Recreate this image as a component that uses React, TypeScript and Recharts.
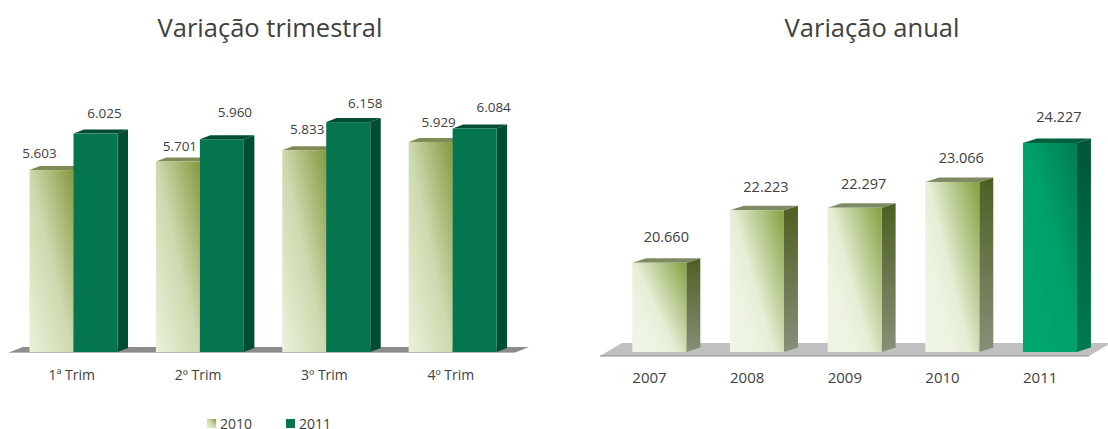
import { BarChart, Bar, XAxis, YAxis, Legend, Cell, LabelList, Customized, usePlotArea } from 'recharts'

const quarters = ['1ª Trim', '2º Trim', '3º Trim', '4º Trim']
const values2010 = [5603, 5701, 5833, 5929]
const values2011 = [6025, 5960, 6158, 6084]
const years = ['2007', '2008', '2009', '2010', '2011']
const annualValues = [20660, 22223, 22297, 23066, 24227]

// labels were nudged by hand in the original, these are offsets from the bar centre / top
const nudge2010 = [[-12, -17], [2, -16], [3, -21], [8, -20]]
const nudge2011 = [[9, -21], [13, -27], [17, -19], [19, -21]]
const nudgeAnnual = [[7, -26], [9, -24], [9, -24], [9, -24], [9, -26]]

const quarterData = quarters.map((q, i) => ({ q, v2010: values2010[i], v2011: values2011[i] }))
const annualData = years.map((year, i) => ({ year, value: annualValues[i] }))

const FONT = '"Open Sans", sans-serif'
const TEXT = '#404040'

function Bar3D(props: any) {
  const { x, y, width, height, fill, side, top, depth, rise } = props
  const r = x + width
  const b = y + height
  return (
    <g>
      <polygon points={`${r},${y} ${r + depth},${y - rise} ${r + depth},${b - rise} ${r},${b}`} fill={side} />
      <polygon points={`${x},${y} ${x + depth},${y - rise} ${r + depth},${y - rise} ${r},${y}`} fill={top} />
      <rect x={x} y={y} width={width} height={height} fill={fill} />
    </g>
  )
}

function Floor({ fill, line, left, right, tip, rise, drop }: any) {
  const area = usePlotArea()
  if (!area) return null
  const base = area.y + area.height
  const x0 = area.x + left
  const x1 = area.x + area.width + right
  return (
    <g>
      <polygon
        points={`${x0},${base + drop} ${x0 + tip},${base - rise} ${x1 + tip},${base - rise} ${x1},${base + drop}`}
        fill={fill}
      />
      <line x1={x0} x2={x1} y1={base + drop} y2={base + drop} stroke={line} strokeWidth={1} />
    </g>
  )
}

function nudgedLabel(nudge: number[][], fontSize: number) {
  return (props: any) => {
    const { x, y, width, value, index } = props
    const [dx, dy] = nudge[index]
    return (
      <text x={x + width / 2 + dx} y={y + dy} textAnchor="middle" dominantBaseline="central" fontSize={fontSize} fontFamily={FONT} fill={TEXT}>
        {value.toLocaleString('de-DE')}
      </text>
    )
  }
}

function shiftedTick(dx: number, dy: number, fontSize: number) {
  return (props: any) => (
    <text x={props.x + dx} y={props.y + dy} textAnchor="middle" dominantBaseline="central" fontSize={fontSize} fontFamily={FONT} fill={TEXT}>
      {props.payload.value}
    </text>
  )
}

function QuarterLegend({ payload }: any) {
  return (
    <div style={{ display: 'flex', justifyContent: 'center', gap: 34, fontFamily: FONT, fontSize: 14, lineHeight: '13px', color: TEXT }}>
      {(payload || []).map((item: any) => (
        <span key={item.value} style={{ display: 'flex', alignItems: 'center', gap: 4 }}>
          <svg width={9} height={9}>
            <rect width={9} height={9} fill={item.color} />
          </svg>
          {item.value}
        </span>
      ))}
    </div>
  )
}

function Title({ children, center }: any) {
  return (
    <div style={{ position: 'absolute', left: center - 200, width: 400, top: 10, textAlign: 'center', fontFamily: FONT, fontSize: 25.5, color: TEXT }}>
      {children}
    </div>
  )
}

export default function App() {
  return (
    <div style={{ position: 'absolute', left: 0, top: 0, width: 1108, height: 429, background: '#fff', overflow: 'hidden' }}>
      <Title center={270}>Variação trimestral</Title>
      <Title center={872}>Variação anual</Title>

      <div style={{ position: 'absolute', left: 0, top: 0 }}>
        <BarChart width={554} height={429} data={quarterData} barGap={0} barCategoryGap={19} margin={{ top: 92.5, right: 38, bottom: 0, left: 10.5 }}>
          <defs>
            <linearGradient id="g2010" x1="0" y1="1" x2="1" y2="0">
              <stop offset="0" stopColor="#eaf2dc" />
              <stop offset="0.5" stopColor="#cdd9ae" />
              <stop offset="1" stopColor="#84993f" />
            </linearGradient>
          </defs>
          <YAxis hide domain={[3500, 6500]} />
          <XAxis dataKey="q" height={77} axisLine={false} tickLine={false} tick={shiftedTick(-2, 14, 14)} />
          <Customized component={<Floor fill="#8c8c8c" line="#b5b5b5" left={-1.5} right={-1} tip={14} rise={5} drop={0.5} />} />
          <Legend
            layout="horizontal"
            verticalAlign="middle"
            align="center"
            content={<QuarterLegend />}
            wrapperStyle={{ top: 416.5, left: 0, width: 538 }}
          />
          <Bar
            dataKey="v2010"
            name="2010"
            fill="url(#g2010)"
            isAnimationActive={false}
            shape={(p: any) => <Bar3D {...p} side="#5f6f2c" top="#7f8a55" depth={10.5} rise={4} />}
          >
            <LabelList content={nudgedLabel(nudge2010, 13.5)} />
          </Bar>
          <Bar
            dataKey="v2011"
            name="2011"
            fill="#05754f"
            isAnimationActive={false}
            shape={(p: any) => <Bar3D {...p} side="#004d33" top="#004d33" depth={10.5} rise={4} />}
          >
            <LabelList content={nudgedLabel(nudge2011, 13.5)} />
          </Bar>
        </BarChart>
      </div>

      <div style={{ position: 'absolute', left: 554, top: 0 }}>
        <BarChart width={554} height={429} data={annualData} barCategoryGap={21.6} margin={{ top: 117, right: 9, bottom: 0, left: 56.7 }}>
          <defs>
            <linearGradient id="gYear" x1="0.15" y1="0.75" x2="1" y2="0.1">
              <stop offset="0" stopColor="#eff5e4" />
              <stop offset="0.35" stopColor="#e6eed6" />
              <stop offset="1" stopColor="#8ca64a" />
            </linearGradient>
            <linearGradient id="gYearSide" x1="0" y1="0" x2="0" y2="1">
              <stop offset="0" stopColor="#4e5f22" />
              <stop offset="1" stopColor="#868f78" />
            </linearGradient>
            <linearGradient id="gLast" x1="0" y1="1" x2="1" y2="0">
              <stop offset="0" stopColor="#00a86f" />
              <stop offset="0.55" stopColor="#00a06a" />
              <stop offset="1" stopColor="#007c54" />
            </linearGradient>
            <linearGradient id="gLastSide" x1="0" y1="0" x2="0" y2="1">
              <stop offset="0" stopColor="#00553a" />
              <stop offset="1" stopColor="#007a50" />
            </linearGradient>
          </defs>
          <YAxis hide domain={[18000, 25000]} />
          <XAxis dataKey="year" height={77} axisLine={false} tickLine={false} tick={shiftedTick(-10, 17, 15)} />
          <Customized component={<Floor fill="#c0c0c0" line="#8f8f8f" left={-10.7} right={-10} tip={22} rise={9} drop={4} />} />
          <Bar
            dataKey="value"
            isAnimationActive={false}
            shape={(p: any) => {
              const last = p.index === annualData.length - 1
              return <Bar3D {...p} side={last ? 'url(#gLastSide)' : 'url(#gYearSide)'} top={last ? '#00603e' : '#7e8a63'} depth={14} rise={4.5} />
            }}
          >
            {annualData.map((d, i) => (
              <Cell key={d.year} fill={i === annualData.length - 1 ? 'url(#gLast)' : 'url(#gYear)'} />
            ))}
            <LabelList content={nudgedLabel(nudgeAnnual, 14.5)} />
          </Bar>
        </BarChart>
      </div>
    </div>
  )
}
